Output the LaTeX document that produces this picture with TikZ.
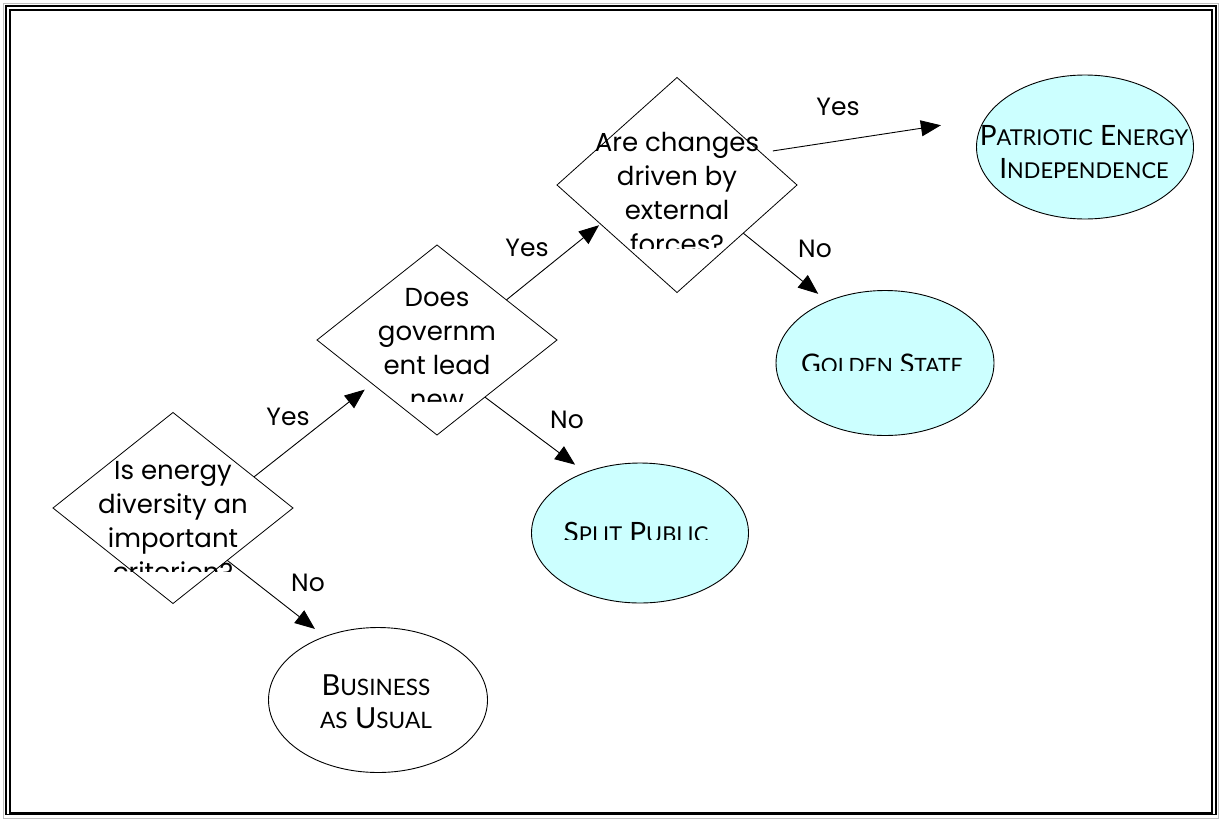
\documentclass[tikz,border=0pt]{standalone}
\usepackage{fontspec}
\setmainfont{Poppins}
\newfontfamily\ovalfont{Lato}
\usetikzlibrary{shapes.geometric,arrows.meta}
\definecolor{paleaqua}{HTML}{CCFFFF}
\makeatletter
\newcommand{\lowcaps}[1]{{\fontsize{\strip@pt\dimexpr0.78\dimexpr\f@size pt\relax\relax}{\f@baselineskip}\selectfont #1}}
\makeatother

\begin{document}
\begin{tikzpicture}[x=1pt,y=-1pt,
  question/.style={draw,shape=diamond,inner sep=0pt,outer sep=0pt,line width=0.8pt},
  outcome/.style={draw,shape=ellipse,inner sep=0pt,outer sep=0pt,line width=0.9pt},
  scenario/.style={outcome,fill=paleaqua},
  qtext/.style={align=center,font=\fontsize{26}{34}\selectfont,inner sep=0pt},
  otext/.style={align=center,font=\ovalfont\fontsize{28}{33}\selectfont,inner sep=0pt},
  answer/.style={font=\fontsize{25}{30}\selectfont,inner sep=0pt},
  branch/.style={-{Triangle[length=20pt,width=16pt]},line width=0.9pt}]
\useasboundingbox (0,0) rectangle (1222,819);
% frame
\draw[gray!50,line width=1pt] (3.5,3.5) rectangle (1218.5,818);
\draw[line width=1.6pt] (5.8,5.8) rectangle (1216,814.5);
\draw[line width=2pt] (10.3,10.3) rectangle (1211.5,812.5);

% decisions
\node[question,minimum width=240pt,minimum height=191pt] (energy) at (173,508) {};
\node[question,minimum width=240pt,minimum height=190pt] (govt) at (437,340) {};
\node[question,minimum width=240pt,minimum height=215pt] (forces) at (677,185) {};

% scenarios
\node[scenario,minimum width=217pt,minimum height=144pt] (patriotic) at (1085,147) {};
\node[scenario,minimum width=218pt,minimum height=145pt] (golden) at (885,363) {};
\node[scenario,minimum width=217pt,minimum height=140pt] (split) at (640,533) {};
\node[outcome,minimum width=219pt,minimum height=145pt] (business) at (378,700) {};

% question texts, cut off at the bottom (base = last line)
\begin{scope}
  \clip (0,0) rectangle (1222,571);
  \node[qtext,anchor=base] (energytext) at (173,581) {Is energy\\diversity an\\important\\criterion?};
\end{scope}
\begin{scope}
  \clip (0,0) rectangle (1222,401);
  \node[qtext,anchor=base] (govttext) at (437,408) {Does\\governm\\ent lead\\new};
\end{scope}
\begin{scope}
  \clip (0,0) rectangle (1222,248);
  \node[qtext,anchor=base] (forcestext) at (677,253) {Are changes\\driven by\\external\\forces?};
\end{scope}

% scenario texts
\node[otext,anchor=base] (patriotictext) at (1084,178) {P\lowcaps{ATRIOTIC} E\lowcaps{NERGY}\\I\lowcaps{NDEPENDENCE}};
\node[otext,font=\ovalfont\fontsize{29}{33}\selectfont,anchor=base] (businesstext) at (376,728) {B\lowcaps{USINESS}\\\lowcaps{AS} U\lowcaps{SUAL}};
\begin{scope}
  \clip (0,0) rectangle (1222,539);
  \node[otext,anchor=base] (splittext) at (636,542) {S\lowcaps{PLIT} P\lowcaps{UBLIC}};
\end{scope}
\begin{scope}
  \clip (0,0) rectangle (1222,370);
  \node[otext,font=\ovalfont\fontsize{27}{33}\selectfont,anchor=base] (goldentext) at (882,373) {G\lowcaps{OLDEN} S\lowcaps{TATE}};
\end{scope}

% branches
\draw[branch,shorten >=9.5pt] (energy.21) -- (govt.214);
\draw[branch,shorten >=12.5pt] (energy.-44) -- (business.130);
\draw[branch,shorten >=2pt] (govt.30) -- (forces.207);
\draw[branch,shorten >=13pt] (govt.-50) -- (split.132);
\draw[branch,shorten <=12pt,shorten >=45pt] (forces.21) -- (patriotic.164);
\draw[branch,shorten >=12pt] (forces.-36) -- (golden.133);

% answers
\node[answer] (yes1) at (288,417) {Yes};
\node[answer] (no1) at (308,583) {No};
\node[answer] (yes2) at (527,248) {Yes};
\node[answer] (no2) at (567,420) {No};
\node[answer] (yes3) at (838,107) {Yes};
\node[answer] (no3) at (815,249) {No};
\end{tikzpicture}
\end{document}
